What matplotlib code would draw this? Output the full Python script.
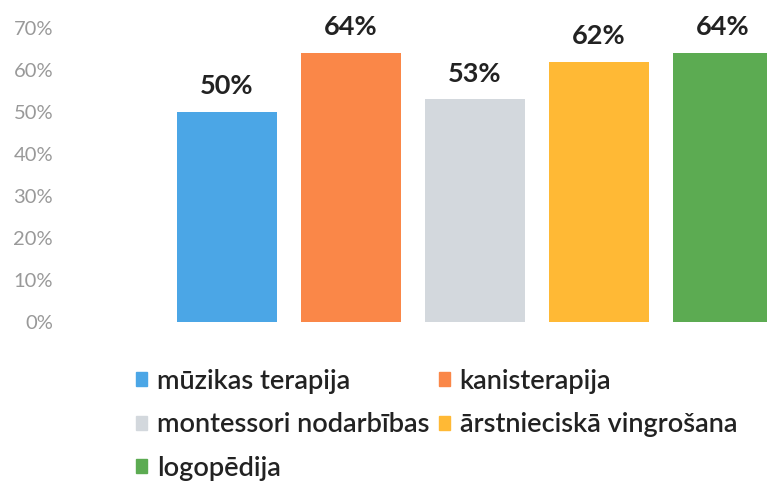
import matplotlib.pyplot as plt
from matplotlib.patches import Patch
from matplotlib.ticker import PercentFormatter

plt.rcParams['font.family'] = ['Lato', 'DejaVu Sans']

categories = ["mūzikas terapija", "kanisterapija", "montessori nodarbības",
              "ārstnieciskā vingrošana", "logopēdija"]
values = [0.50, 0.64, 0.53, 0.62, 0.64]
labels = ["50%", "64%", "53%", "62%", "64%"]
colors = ["#4ba6e6", "#fa8748", "#d3d8dd", "#ffb935", "#5cab52"]

W, H = 767, 492
fig = plt.figure(figsize=(W / 100, H / 100), dpi=100)
ax = fig.add_axes([60 / W, 170 / H, 1 - 60 / W, 294 / H])

x = range(len(values))
bars = ax.bar(x, values, width=0.81, color=colors)
for xi, v, lab in zip(x, values, labels):
    ax.annotate(lab, (xi, v), xytext=(0, 10), textcoords="offset points",
                ha="center", va="bottom", fontsize=19.5, fontweight="bold",
                color="#222222", annotation_clip=False)

ax.set_ylim(0, 0.7)
ax.set_xlim(-1.347, 4.355)
ax.set_yticks([i / 10 for i in range(8)])
ax.yaxis.set_major_formatter(PercentFormatter(1.0, decimals=0))
ax.tick_params(axis="y", length=0, labelsize=14.5, labelcolor="#999999", pad=5)
ax.set_xticks([])
for s in ax.spines.values():
    s.set_visible(False)

handles = [Patch(color=c) for c in colors]
order = [0, 2, 4, 1, 3]
fig.legend([handles[i] for i in order], [categories[i] for i in order],
           loc="upper left", bbox_to_anchor=(136 / W, 1 - 369 / H), ncol=2,
           frameon=False, prop={"size": 19.5, "weight": "semibold"},
           handlelength=0.42, handleheight=0.42,
           handletextpad=0.35, columnspacing=0.35, labelspacing=0.68,
           labelcolor="#222222", borderaxespad=0, borderpad=0)

fig.savefig("out.png", dpi=100)
